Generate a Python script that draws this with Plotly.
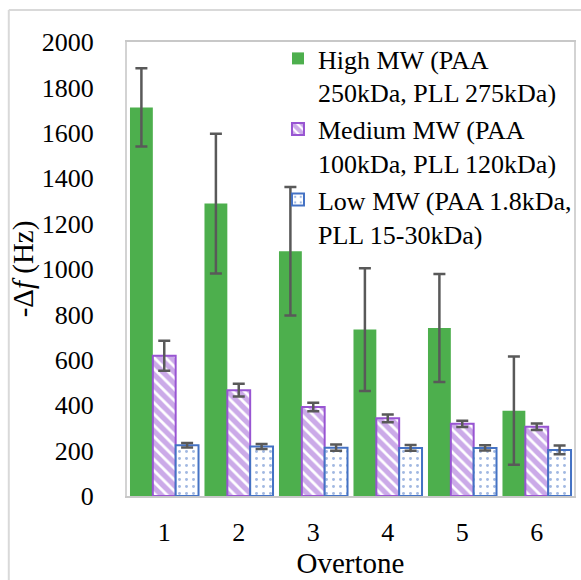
import plotly.graph_objects as go

# Overtone number on the x axis
overtones = ["1", "2", "3", "4", "5", "6"]

# -Δf (Hz) mean values per molecular-weight series
high_mw = [1712, 1288, 1078, 733, 740, 376]
medium_mw = [618, 466, 392, 342, 318, 305]
low_mw = [224, 218, 213, 212, 212, 203]

# Error-bar half-widths (Hz)
high_err = [172, 308, 283, 270, 238, 238]
medium_err = [66, 28, 19, 17, 14, 14]
low_err = [10, 11, 14, 13, 12, 19]

series_names = [
    "High MW (PAA<br>250kDa, PLL 275kDa)",
    "Medium MW (PAA<br>100kDa, PLL 120kDa)",
    "Low MW (PAA 1.8kDa,<br>PLL 15-30kDa)",
]

y_ticks = [0, 200, 400, 600, 800, 1000, 1200, 1400, 1600, 1800, 2000]

FONT = "Liberation Serif"
GREEN = "#4DAF4D"
PURPLE = "#9855D2"
BLUE = "#4472C4"
ERR = "#595959"

err_style = dict(type="data", thickness=2.5, width=6, color=ERR)

fig = go.Figure()
fig.add_trace(go.Bar(
    x=overtones, y=high_mw, name=series_names[0],
    marker=dict(color=GREEN, line=dict(width=0)),
    error_y=dict(array=high_err, **err_style),
))
fig.add_trace(go.Bar(
    x=overtones, y=medium_mw, name=series_names[1],
    marker=dict(
        color="white",
        line=dict(color=PURPLE, width=2),
        pattern=dict(shape="\\", fgcolor=PURPLE, bgcolor="white",
                     size=8, solidity=0.65, fillmode="overlay"),
    ),
    error_y=dict(array=medium_err, **err_style),
))
fig.add_trace(go.Bar(
    x=overtones, y=low_mw, name=series_names[2],
    marker=dict(
        color="white",
        line=dict(color=BLUE, width=2),
        pattern=dict(shape=".", fgcolor=BLUE, bgcolor="white",
                     size=7, solidity=0.14, fillmode="overlay"),
    ),
    error_y=dict(array=low_err, **err_style),
))

L, R, T, B = 127, 4, 42, 84
W, H = 581, 580
pw, ph = W - L - R, H - T - B


def px_x(p):
    return (p - L) / pw


def px_y(p):
    return (H - B - p) / ph


fig.update_layout(
    width=W, height=H,
    margin=dict(l=L, r=R, t=T, b=B),
    paper_bgcolor="white", plot_bgcolor="white",
    barmode="group", bargap=0.08, bargroupgap=0,
    font=dict(family=FONT, size=26, color="black"),
    showlegend=True,
    legend=dict(
        x=px_x(279), y=px_y(35), xanchor="left", yanchor="top",
        bgcolor="rgba(255,255,255,0)", borderwidth=0,
        font=dict(family=FONT, size=26, color="black"),
        valign="top", tracegroupgap=2,
    ),
    xaxis=dict(
        showline=True, linecolor="#C8C8C8", linewidth=2, mirror=True,
        ticks="", showgrid=False, zeroline=False,
        tickfont=dict(family=FONT, size=26),
        ticklabelstandoff=12,
        title=dict(text="Overtone", font=dict(family=FONT, size=29), standoff=2),
    ),
    yaxis=dict(
        range=[0, 2000], tickvals=y_ticks,
        showline=True, linecolor="#D3D3D3", linewidth=2, mirror=True,
        ticks="", showgrid=False, zeroline=False,
        tickfont=dict(family=FONT, size=26),
        ticklabelstandoff=26,
        title=dict(text="-Δ<i>f</i> (Hz)", font=dict(family=FONT, size=29), standoff=0),
    ),
    shapes=[
        # outer chart frame (left and top edges)
        dict(type="line", xref="paper", yref="paper",
             x0=px_x(8), x1=px_x(8), y0=px_y(10), y1=px_y(600),
             line=dict(color="#D9D9D9", width=2)),
        dict(type="line", xref="paper", yref="paper",
             x0=px_x(8), x1=px_x(600), y0=px_y(10), y1=px_y(10),
             line=dict(color="#D9D9D9", width=2)),
    ],
)

fig.write_html("out.html")
